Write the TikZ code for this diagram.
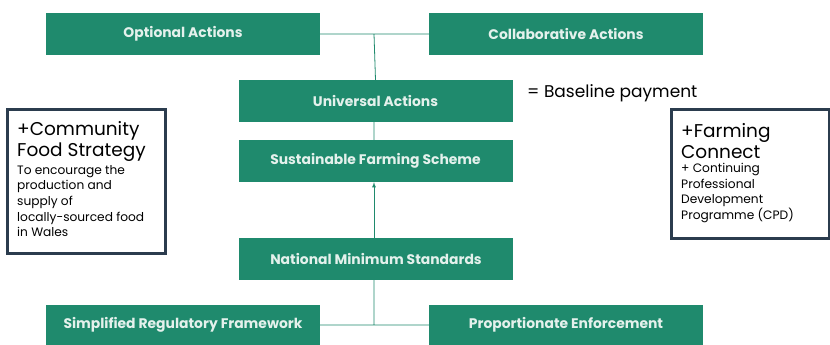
\documentclass[tikz,border=0pt]{standalone}
\usepackage{fontspec}
\setmainfont{Poppins}
\newfontfamily\boxfont{Poppins}
\usepackage{tikz}
\usetikzlibrary{arrows,positioning,shapes}

\definecolor{schemegreen}{HTML}{1F8A6D}
\definecolor{boxtext}{HTML}{E4F1EC}
\definecolor{framedark}{HTML}{2B3C4E}

\begin{document}
\begin{tikzpicture}[x=1pt,y=-1pt,
            stage/.style={fill=schemegreen,text=boxtext,minimum width=274,minimum height=42,inner sep=0,font=\boxfont\bfseries\fontsize{13.9}{14}\selectfont},
            extra/.style={draw=framedark,line width=3.2,fill=white,minimum width=158,inner sep=0,anchor=north west},
            big/.style={align=left,inner sep=0,anchor=west,font=\fontsize{18.5}{21}\selectfont},
            small/.style={align=left,inner sep=0,anchor=west,font=\fontsize{12.2}{15.6}\selectfont},
            link/.style={draw=schemegreen,line width=.8,>=latex}
          ]
          \useasboundingbox[fill=white] (0,0) rectangle (830,345);

          %top row
          \node[stage] (opt) at (183,34) {Optional Actions};
          \node[stage] (col) at (566,34) {Collaborative Actions};
          \coordinate (topjoin) at (374,34);

          %central column
          \node[stage] (univ) at (375.5,101) {Universal Actions};
          \node[stage] (sfs) at (375.5,161) {Sustainable Farming Scheme};
          \node[stage] (nms) at (376,259) {National Minimum Standards};

          %bottom row
          \node[stage,minimum height=40] (srf) at (183,325) {Simplified Regulatory Framework};
          \node[stage,minimum height=40] (pe) at (566,325) {Proportionate Enforcement};
          \coordinate (botjoin) at (374,325);

          %labels
          \node[anchor=west,font=\fontsize{17}{17}\selectfont,inner sep=0] (base) at (527,93) {= Baseline payment};

          %side boxes
          \node[extra,minimum height=144] (cfs) at (6,108) {};
          \node[big] (cfstitle) at (17,141) {+Community\\Food Strategy};
          \node[small] (cfstext) at (17,201) {To encourage the\\production and\\supply of\\locally-sourced food\\in Wales};

          \node[extra,minimum height=129] (fc) at (670,108) {};
          \node[big] (fctitle) at (681,141) {+Farming\\Connect};
          \node[small] (fctext) at (681,193) {+ Continuing\\Professional\\Development\\Programme (CPD)};

          \path[link]
          (opt.east) -- (col.west)
          (topjoin) -- (univ.north)
          (univ.south -| topjoin) -- (sfs.north -| topjoin)
          (srf.east) -- (pe.west)
          (nms.south -| botjoin) -- (botjoin)
          ;
          \path[link,->] (nms.north -| topjoin) -- (sfs.south -| topjoin);

      \end{tikzpicture}
\end{document}
